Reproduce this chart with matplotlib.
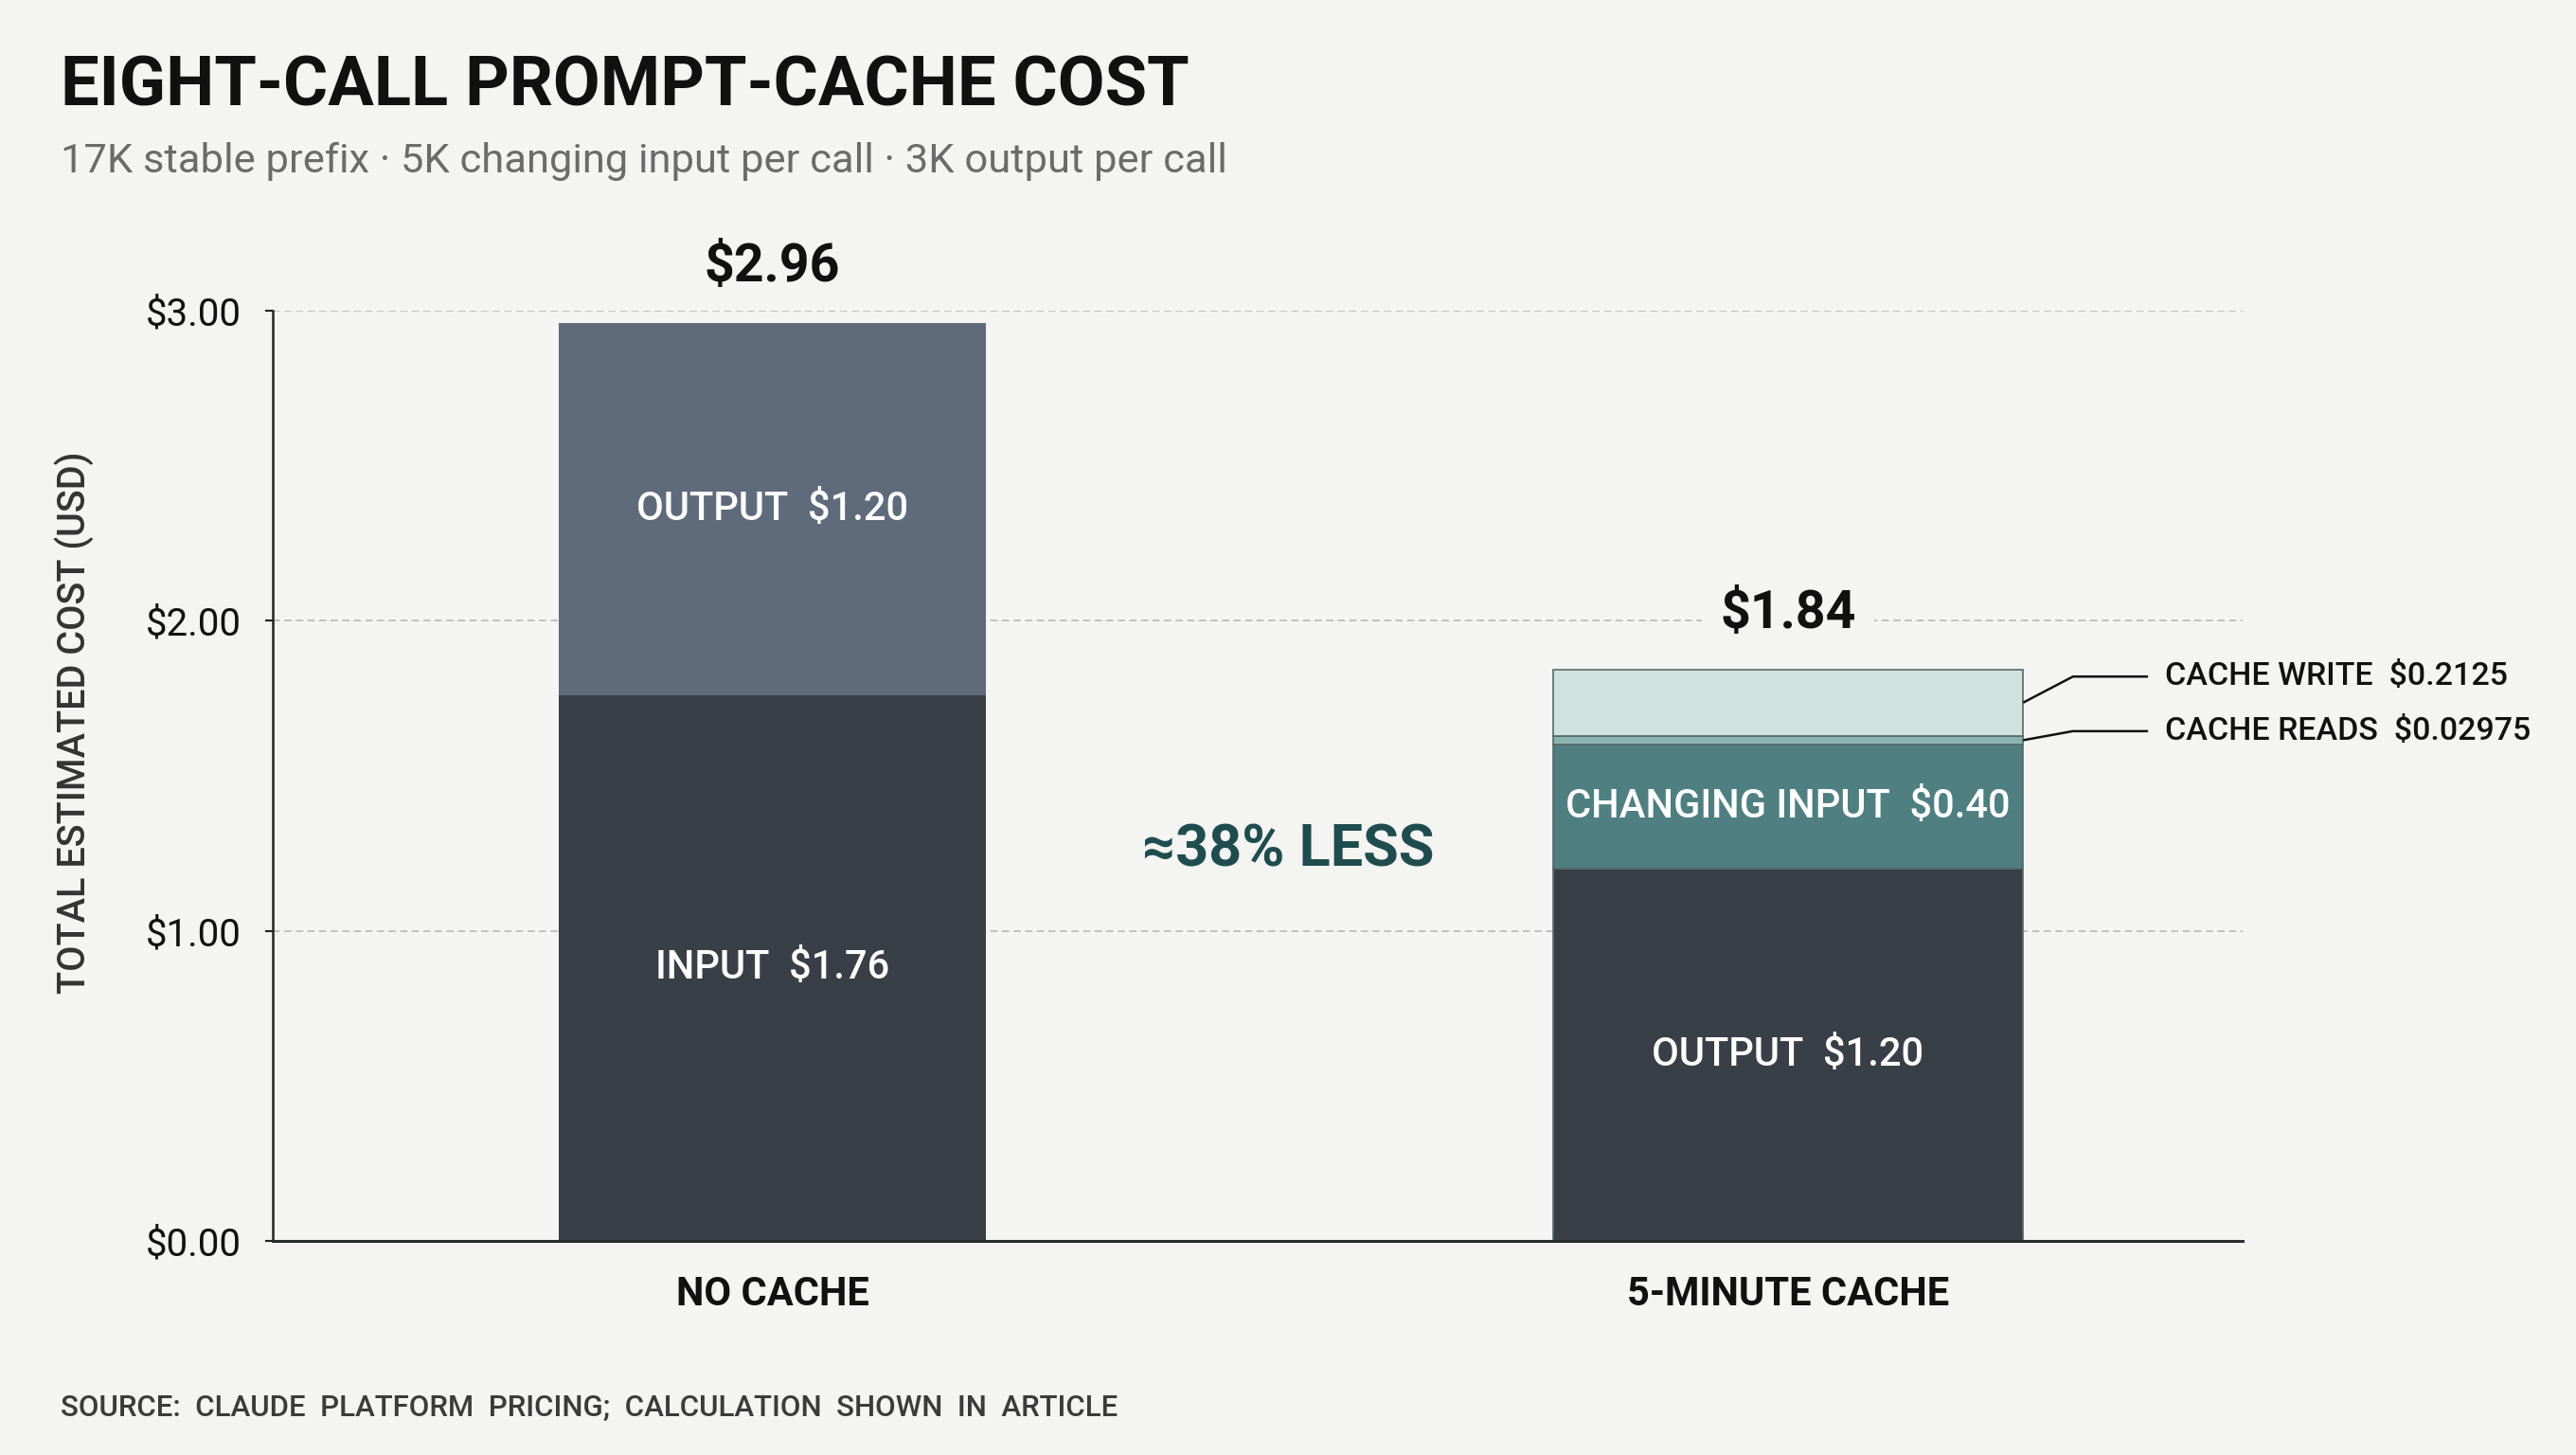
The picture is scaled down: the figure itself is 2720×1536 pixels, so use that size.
import matplotlib
matplotlib.use("Agg")
import matplotlib.pyplot as plt

plt.rcParams['font.family'] = ['Roboto', 'DejaVu Sans']

# data
categories = ["NO CACHE", "5-MINUTE CACHE"]
no_cache_parts = ["INPUT", "OUTPUT"]
no_cache_vals = [1.76, 1.20]
cache_parts = ["OUTPUT", "CHANGING INPUT", "CACHE READS", "CACHE WRITE"]
cache_vals = [1.20, 0.40, 0.02975, 0.2125]
yticks = [0, 1, 2, 3]
ytick_labels = ["$0.00", "$1.00", "$2.00", "$3.00"]

title = "EIGHT-CALL PROMPT-CACHE COST"
subtitle = "17K stable prefix \u00b7 5K changing input per call \u00b7 3K output per call"
ylabel = "TOTAL ESTIMATED COST (USD)"
source = "SOURCE: CLAUDE PLATFORM PRICING; CALCULATION SHOWN IN ARTICLE"

# styles
BG = "#f4f4f2"
DARK = "#393f46"
SLATE = "#5f6b7b"
TEAL = "#4f7f81"
READS = "#8ab4b0"
WRITE = "#cfe2dd"
no_cache_colors = [DARK, SLATE]
cache_colors = [DARK, TEAL, READS, WRITE]
bar_w = [0.42, 0.463]

fig = plt.figure(figsize=(27.2, 15.36), dpi=100)
fig.patch.set_facecolor(BG)
ax = fig.add_axes([288/2720, 226/1536, 2080/2720, 982/1536])
ax.set_facecolor(BG)

def stack(ax, x, w, vals, names, colors, edge):
    bottom = 0
    outs = []
    for v, n, c in zip(vals, names, colors):
        ax.bar(x, v, w, bottom=bottom, color=c, edgecolor=edge,
               linewidth=1.2 if edge != 'none' else 0, zorder=2)
        if v >= 0.3:
            ax.text(x, bottom + v/2, f"{n}  ${v:.2f}", ha='center', va='center',
                    color='white', fontsize=30, fontweight='medium', zorder=4)
        else:
            outs.append((n, v, bottom + v/2))
        bottom += v
    ax.annotate(f"${bottom:.2f}", (x, bottom), xytext=(0, 24), textcoords='offset points',
                ha='center', va='bottom', fontsize=40, fontweight='bold', color='#111111',
                bbox=dict(boxstyle='square,pad=0.35', fc=BG, ec='none'), zorder=5)
    return bottom, outs

tot0, _ = stack(ax, 0, bar_w[0], no_cache_vals, no_cache_parts, no_cache_colors, 'none')
tot1, outs = stack(ax, 1, bar_w[1], cache_vals, cache_parts, cache_colors, '#56686a')

# leader labels for thin segments (reads, write)
label_y = [1.644, 1.82]
xr = 1 + bar_w[1]/2
for (n, v, mid), ly in zip(outs, label_y):
    ax.plot([xr, xr + 0.049, xr + 0.123], [mid, ly, ly], color='#111111', lw=1.8,
            clip_on=False, zorder=4, solid_capstyle='butt')
    ax.text(xr + 0.14, ly, f"{n}  ${v:g}", ha='left', va='center', fontsize=24.5,
            fontweight='medium', color='#111111')

saving = round((1 - tot1/tot0) * 100)
ax.text(0.508, 1.26, f"\u2248{saving}% LESS", ha='center', va='center', fontsize=44,
        fontweight='bold', color='#1f4d4f')

ax.set_xlim(-0.4918, 1.4476)
ax.set_ylim(0, 3)
ax.set_yticks(yticks, ytick_labels)
ax.set_xticks([0, 1], categories)
ax.tick_params(axis='x', length=0, pad=26, labelsize=30)
for t in ax.get_xticklabels():
    t.set_fontweight('bold')
    t.set_color('#111111')
ax.tick_params(axis='y', length=6, width=1.5, color='#222222', pad=18, labelsize=29,
               labelcolor='#111111')
ax.yaxis.grid(True, color='#b4b4b4', linestyle=(0, (5, 3)), linewidth=1.1, zorder=0)
ax.set_axisbelow(True)
for s in ['top', 'right']:
    ax.spines[s].set_visible(False)
ax.spines['left'].set_linewidth(1.8)
ax.spines['left'].set_color('#222222')
ax.spines['bottom'].set_linewidth(2.2)
ax.spines['bottom'].set_color('#2a2d31')

fig.text(64/2720, 1 - 112/1536, title, ha='left', va='baseline', fontsize=52,
         fontweight='bold', color='#111111')
fig.text(64/2720, 1 - 182/1536, subtitle, ha='left', va='baseline', fontsize=31.3,
         color='#6b6b6b')
fig.text(78/2720, 1 - 763/1536, ylabel, ha='center', va='center', rotation=90,
         fontsize=28.5, fontweight='medium', color='#333333')
fig.text(64/2720, 1 - 1486/1536, source.replace(" ", "  "), ha='left', va='center',
         fontsize=22.5, fontweight='medium', color='#3b3b3b')

fig.savefig("out.png", dpi=100, facecolor=BG)
